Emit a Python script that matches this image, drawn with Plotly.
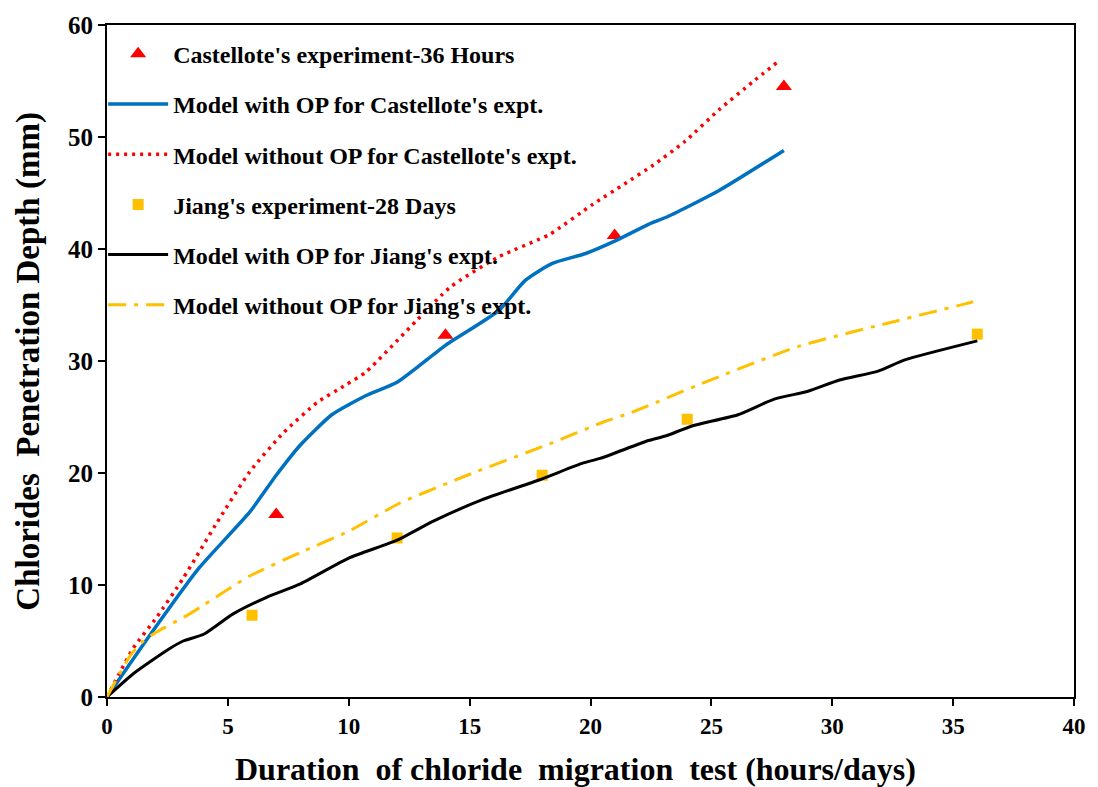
import plotly.graph_objects as go

# Experimental data
cast_x = [7, 14, 21, 28]
cast_y = [16.3, 32.3, 41.2, 54.5]
jiang_x = [6, 12, 18, 24, 36]
jiang_y = [7.3, 14.2, 19.8, 24.8, 32.4]

# Model with OP, Castellote
m_op_c_x = [0, 1.8, 3.8, 5.9, 7.0, 8.0, 9.3, 10.7, 12.0, 14.0, 16.2, 17.3, 18.4, 19.8, 21.0, 22.4, 23.2, 25.3, 28.0]
m_op_c_y = [0, 5.6, 11.5, 16.5, 19.8, 22.5, 25.2, 26.9, 28.1, 31.4, 34.5, 37.2, 38.7, 39.6, 40.7, 42.2, 42.9, 45.2, 48.8]

# Model without OP, Castellote
m_nop_c_x = [0, 1.1, 2.05, 3.15, 4.5, 5.9, 7.3, 8.7, 9.9, 10.7, 12.8, 14.2, 16.2, 18.3, 20.1, 21.4, 22.6, 23.9, 25.3, 26.7, 27.8]
m_nop_c_y = [0, 4.4, 7.1, 10.6, 15.4, 20.1, 23.6, 26.3, 27.9, 29.0, 33.6, 36.6, 39.3, 41.3, 44.0, 45.8, 47.5, 49.6, 52.4, 54.9, 56.8]

# Model with OP, Jiang
m_op_j_x = [0, 1.1, 2.5, 3.15, 4.0, 5.2, 6.6, 8.0, 10.0, 12.0, 13.5, 15.5, 17.9, 19.7, 20.4, 22.4, 23.1, 24.2, 26.1, 27.6, 29.0, 30.3, 31.9, 33.0, 36.0]
m_op_j_y = [0, 2.1, 4.2, 5.0, 5.6, 7.4, 8.9, 10.1, 12.4, 14.0, 15.7, 17.6, 19.4, 20.9, 21.3, 22.9, 23.3, 24.2, 25.2, 26.6, 27.3, 28.3, 29.1, 30.1, 31.8]

# Model without OP, Jiang
m_nop_j_x = [0, 0.5, 1.0, 1.5, 2.05, 3.4, 3.85, 5.9, 8.0, 10.0, 12.1, 14.9, 18.3, 20.6, 21.7, 24.5, 28.6, 32.7, 35.5, 36.0]
m_nop_j_y = [0, 2.0, 3.8, 5.0, 5.8, 7.4, 8.0, 10.8, 12.9, 14.8, 17.3, 19.8, 22.6, 24.6, 25.4, 27.9, 31.3, 33.6, 35.1, 35.4]

x_ticks = [0, 5, 10, 15, 20, 25, 30, 35, 40]
y_ticks = [0, 10, 20, 30, 40, 50, 60]

FONT = "Liberation Serif"
SMOOTH = 0.55

fig = go.Figure()
fig.add_trace(go.Scatter(
    x=cast_x, y=cast_y, mode="markers", name="Castellote's experiment-36 Hours",
    marker=dict(symbol="triangle-up", size=14, color="#FF0000"), legendgroup="a"))
fig.add_trace(go.Scatter(
    x=m_op_c_x, y=m_op_c_y, mode="lines", name="Model with OP for Castellote's expt.",
    line=dict(color="#0070C0", width=3.5, shape="spline", smoothing=SMOOTH), legendgroup="b"))
fig.add_trace(go.Scatter(
    x=m_nop_c_x, y=m_nop_c_y, mode="lines", name="Model without OP for Castellote's expt.",
    line=dict(color="#FF0000", width=3.5, dash="3px,5px", shape="spline", smoothing=SMOOTH), legendgroup="c"))
fig.add_trace(go.Scatter(
    x=jiang_x, y=jiang_y, mode="markers", name="Jiang's experiment-28 Days",
    marker=dict(symbol="square", size=11, color="#FFC000"), legendgroup="d"))
fig.add_trace(go.Scatter(
    x=m_op_j_x, y=m_op_j_y, mode="lines", name="Model with OP for Jiang's expt.",
    line=dict(color="#000000", width=3, shape="spline", smoothing=SMOOTH), legendgroup="e"))
fig.add_trace(go.Scatter(
    x=m_nop_j_x, y=m_nop_j_y, mode="lines", name="Model without OP for Jiang's expt.",
    line=dict(color="#FFC000", width=3, dash="18px,8px,4px,8px", shape="spline", smoothing=SMOOTH), legendgroup="f"))

fig.update_layout(
    width=1098, height=787,
    margin=dict(l=107, r=22, t=19, b=90),
    paper_bgcolor="white", plot_bgcolor="white",
    font=dict(family=FONT, color="black"),
    showlegend=True,
    legend=dict(x=-0.004, y=0.99, xanchor="left", yanchor="top",
                bgcolor="rgba(0,0,0,0)", borderwidth=0,
                font=dict(family=FONT, size=24, color="black", weight="bold"),
                tracegroupgap=16, itemwidth=60),
    annotations=[
        dict(text="Duration  of chloride  migration  test (hours/days)",
             xref="paper", yref="paper", x=0.485, y=-0.107,
             xanchor="center", yanchor="middle", showarrow=False,
             font=dict(family=FONT, size=32, weight="bold", color="black")),
        dict(text="Chlorides  Penetration Depth (mm)",
             xref="paper", yref="paper", x=-0.082, y=0.5, textangle=-90,
             xanchor="center", yanchor="middle", showarrow=False,
             font=dict(family=FONT, size=33, weight="bold", color="black")),
    ],
)

fig.update_xaxes(
    range=[0, 40], tickmode="array", tickvals=x_ticks,
    showline=True, linecolor="black", linewidth=2, mirror=True,
    ticks="outside", ticklen=7, tickwidth=2, tickcolor="black",
    showgrid=False, zeroline=False,
    tickfont=dict(family=FONT, size=23, color="black", weight="bold"),
)
fig.update_yaxes(
    range=[0, 60], tickmode="array", tickvals=y_ticks,
    showline=True, linecolor="black", linewidth=2, mirror=True,
    ticks="outside", ticklen=7, tickwidth=2, tickcolor="black",
    showgrid=False, zeroline=False, ticksuffix="\u00a0\u00a0",
    tickfont=dict(family=FONT, size=25, color="black", weight="bold"),
)

fig.write_html("out.html")
